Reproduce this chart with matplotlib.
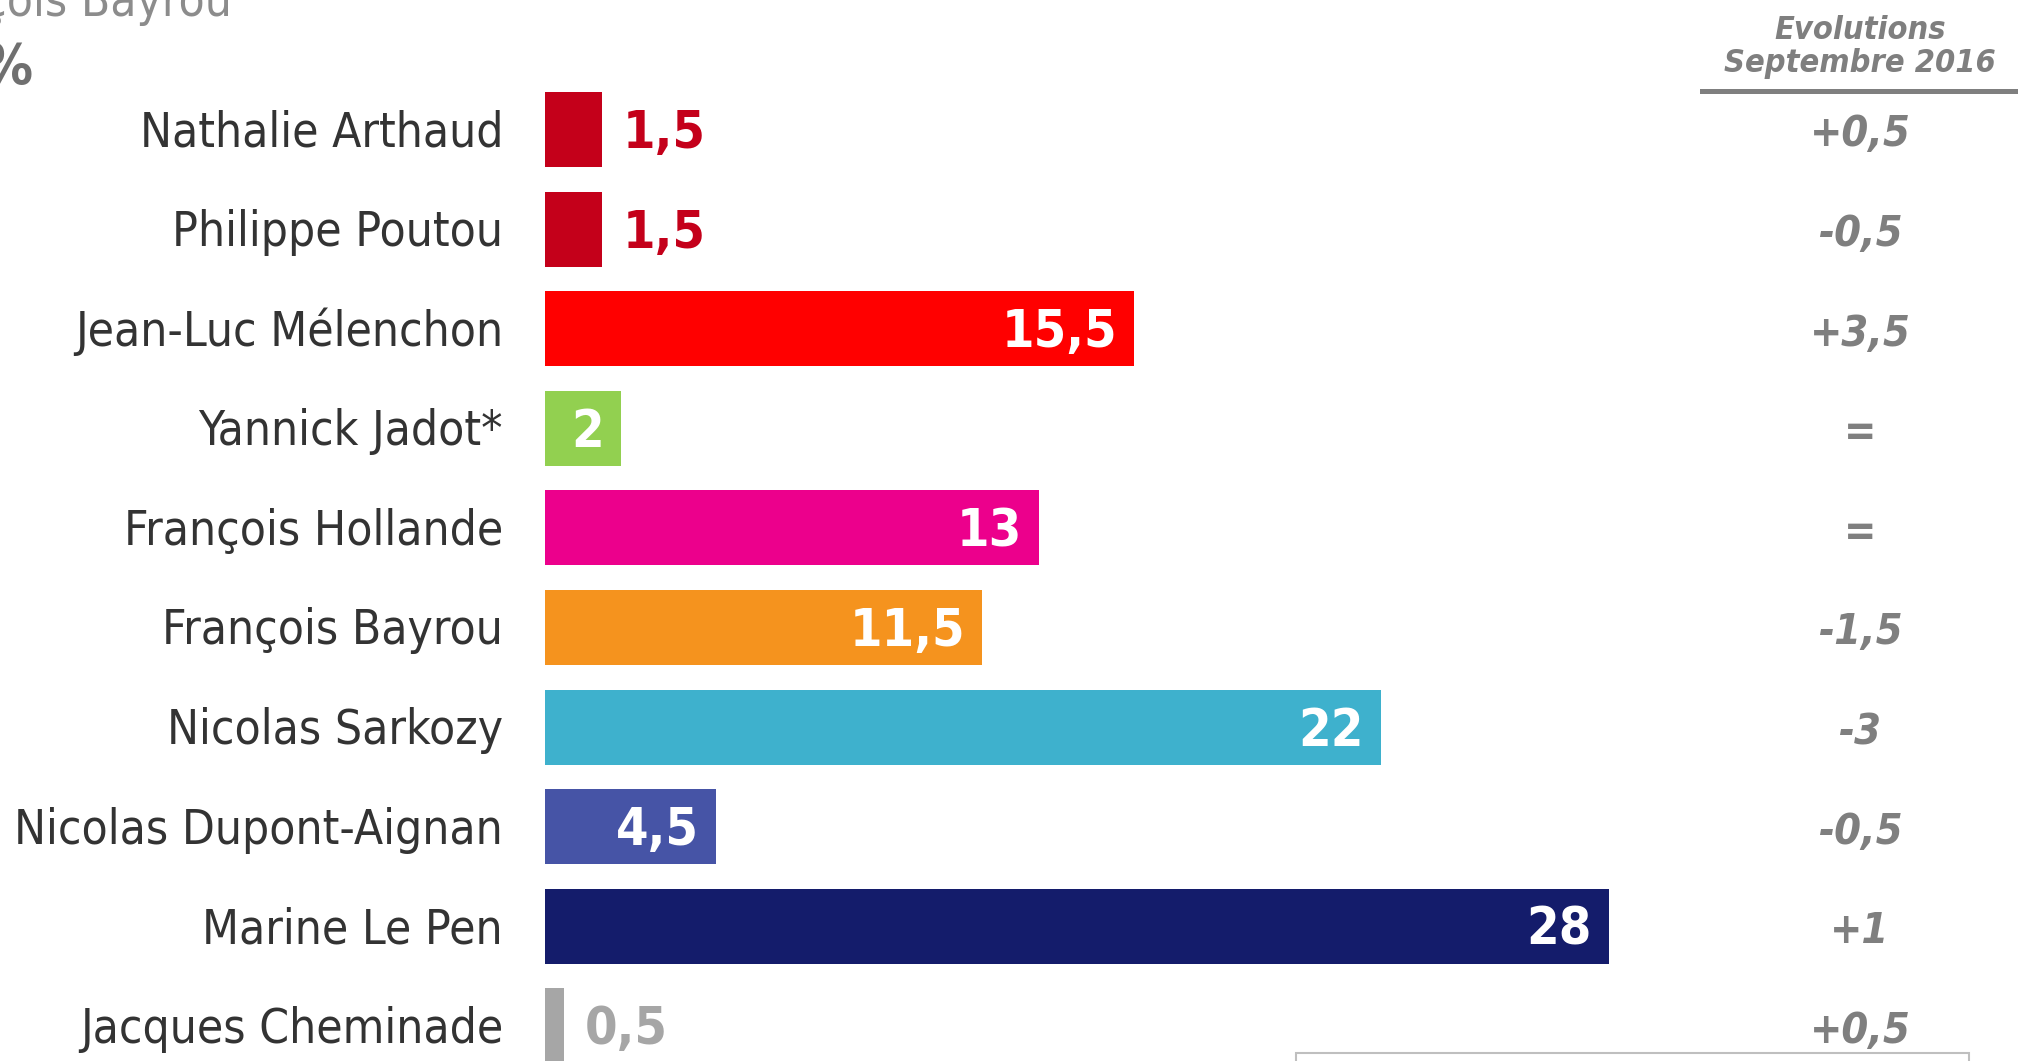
import matplotlib
matplotlib.use('Agg')
import matplotlib.pyplot as plt
from matplotlib.patches import Rectangle
from matplotlib.lines import Line2D

# data
candidates = ['Nathalie Arthaud', 'Philippe Poutou', 'Jean-Luc Mélenchon', 'Yannick Jadot*',
              'François Hollande', 'François Bayrou', 'Nicolas Sarkozy',
              'Nicolas Dupont-Aignan', 'Marine Le Pen', 'Jacques Cheminade']
scores = [1.5, 1.5, 15.5, 2, 13, 11.5, 22, 4.5, 28, 0.5]
evolutions = ['+0,5', '-0,5', '+3,5', '=', '=', '-1,5', '-3', '-0,5', '+1', '+0,5']
colors = ['#C4001A', '#C4001A', '#FF0000', '#92D050', '#EC008C', '#F5931E',
          '#3EB1CD', '#4654A6', '#141C6B', '#A6A6A6']

plt.rcParams['font.family'] = ['DejaVu Sans']
plt.rcParams['font.stretch'] = 'condensed'

W, H = 2018, 1061
fig = plt.figure(figsize=(W / 100, H / 100), dpi=100)
ax = fig.add_axes([0, 0, 1, 1])
ax.axis('off')

# pixel layout: bars start at x=545, 38 px per point, rows every 99.6 px
x0, ppu = 545, 38.0
y0, step = 129.5, 99.6
ax.set_xlim(-x0 / ppu, (W - x0) / ppu)
ax.set_ylim((H - y0) / step, -y0 / step)

rows = list(range(len(candidates)))
ax.barh(rows, scores, height=0.755, color=colors, linewidth=0)

def fx(px):
    return px / W

def fy(py):
    return 1 - py / H

grey = '#7F7F7F'
for i, (name, v, col, ev) in enumerate(zip(candidates, scores, colors, evolutions)):
    ax.text(-42 / ppu, i + 0.17, name, ha='right', va='baseline',
            fontsize=34.3, color='#333333')
    txt = f'{v:g}'.replace('.', ',')
    if v >= 2:
        ax.text(v - 17 / ppu, i + 0.185, txt, ha='right', va='baseline',
                fontsize=37.5, fontweight='bold', color='white')
    else:
        ax.text(v + 21 / ppu, i + 0.185, txt, ha='left', va='baseline',
                fontsize=37.5, fontweight='bold', color=col)
    ax.text((1860 - x0) / ppu, i + 0.17, ev, ha='center', va='baseline',
            fontsize=31, fontweight='bold', fontstyle='italic', color=grey)

# column header
fig.text(fx(1860), fy(39), 'Evolutions', ha='center', va='baseline',
         fontsize=23.3, fontweight='bold', fontstyle='italic', color=grey)
fig.text(fx(1860), fy(72), 'Septembre 2016', ha='center', va='baseline',
         fontsize=23.3, fontweight='bold', fontstyle='italic', color=grey)
fig.add_artist(Line2D([fx(1702), fx(2018)], [fy(90.5), fy(90.5)],
                      color=grey, linewidth=3.6))

# cropped bits at the edges of the screenshot
fig.text(fx(232), fy(16), 'François Bayrou', ha='right', va='baseline',
         fontsize=34.3, color='#8C8C8C')
fig.text(fx(32), fy(83), '%', ha='right', va='baseline',
         fontsize=40, fontweight='bold', color='#707070')
fig.add_artist(Rectangle((fx(1296), fy(1100)), fx(1969) - fx(1296), fy(1053) - fy(1100),
                         fill=False, edgecolor='#BFBFBF', linewidth=1.5))

fig.savefig('out.png', dpi=100)
